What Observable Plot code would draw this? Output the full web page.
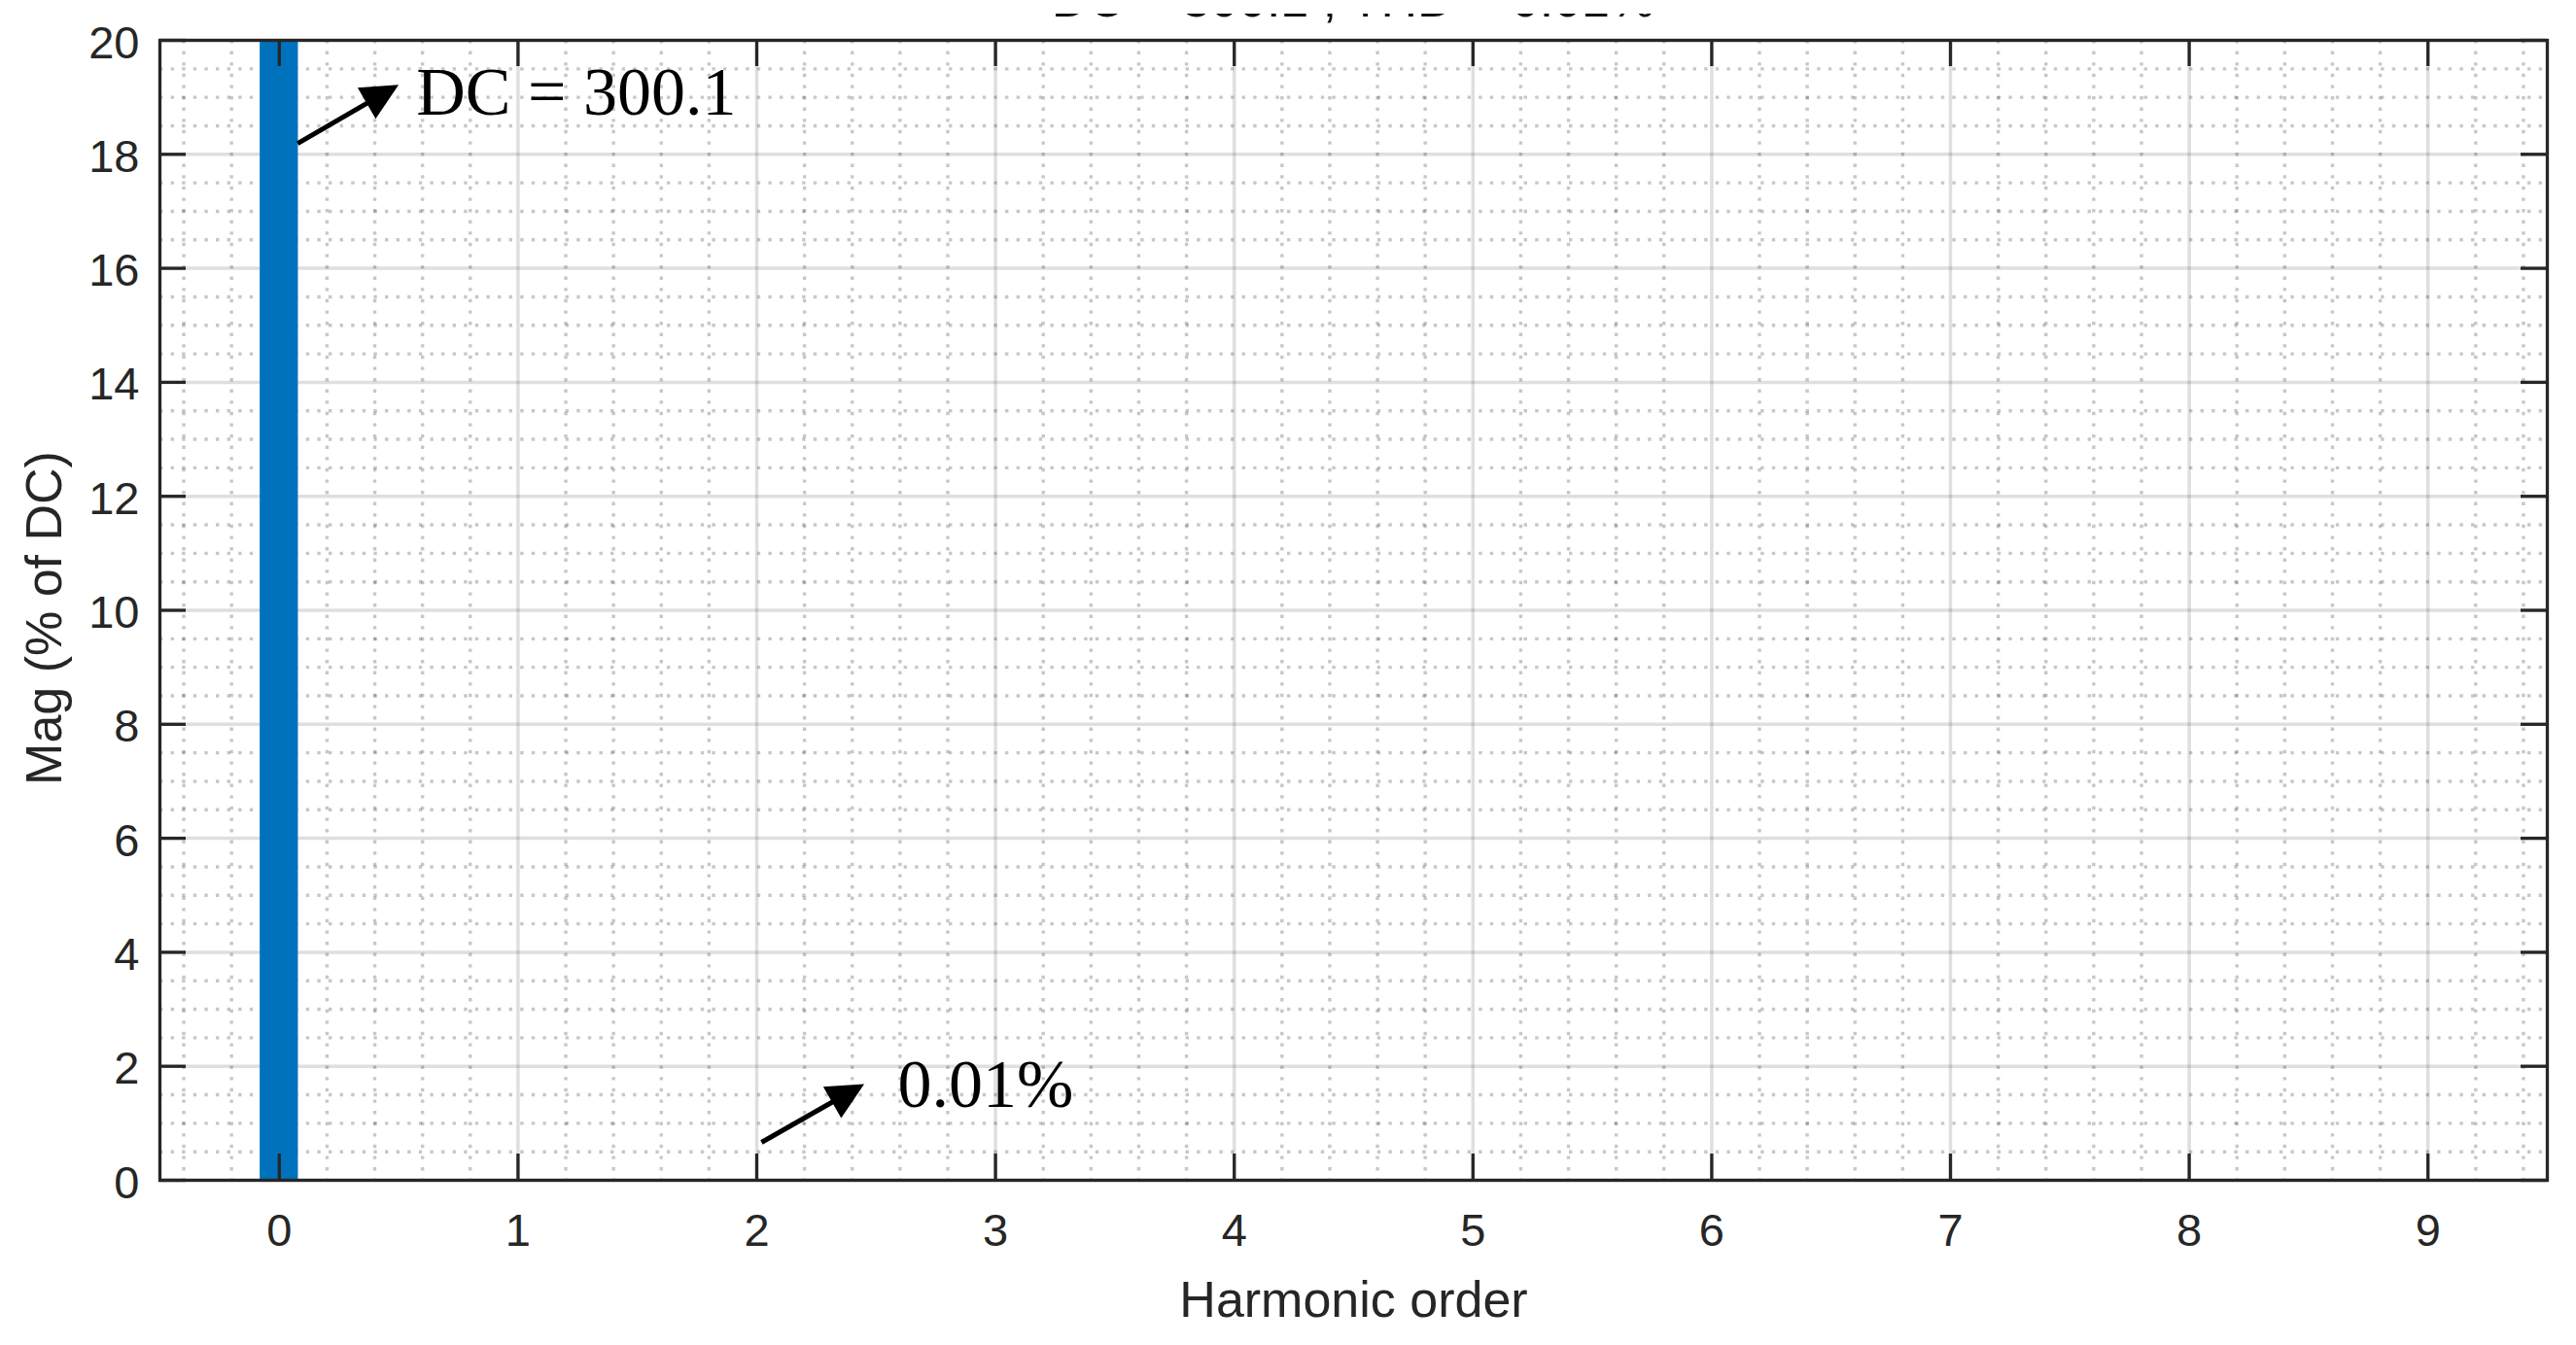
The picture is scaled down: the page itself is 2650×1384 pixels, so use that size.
<!DOCTYPE html>
<html>
<head>
<meta charset="utf-8">
<script src="https://cdn.jsdelivr.net/npm/d3@7"></script>
<script src="https://cdn.jsdelivr.net/npm/@observablehq/plot@0.6"></script>
<style>
html, body { margin: 0; padding: 0; background: #fff; }
#wrap { position: relative; width: 2650px; height: 1384px; overflow: hidden; background: #fff; }
#chart { position: absolute; left: 0; top: 0; }
#title { position: absolute; left: 164px; width: 2456px; top: -27px; height: 60px; line-height: 52px;
  font-family: 'Liberation Sans', Arial, sans-serif; font-size: 52px; color: #111; text-align: center;
  white-space: pre; clip-path: inset(41px 0 0 0); z-index: 2; }
</style>
</head>
<body>
<div id="wrap"><div id="chart"></div><div id="title"></div></div>
<script>
// ---- data ----
const titleText = "DC = 300.1 , THD = 0.01%";
const harmonicOrder = [0, 1, 2, 3, 4, 5, 6, 7, 8, 9];
const magPercentOfDC = [100, 0, 0, 0, 0, 0, 0, 0, 0, 0];
const xTicks = [0, 1, 2, 3, 4, 5, 6, 7, 8, 9];
const yTicks = [0, 2, 4, 6, 8, 10, 12, 14, 16, 18, 20];
const xLabel = "Harmonic order";
const yLabel = "Mag (% of DC)";
const noteTexts = ["DC = 300.1", "0.01%"];
const noteX = [0.574, 2.59];
const noteY = [18.70, 1.28];
const arrowX1 = [0.077, 2.02];
const arrowY1 = [18.19, 0.665];
const arrowX2 = [0.50, 2.45];
const arrowY2 = [19.22, 1.69];

// ---- layout / style ----
const W = 2650, H = 1384;
const mL = 164, mR = 30, mT = 41, mB = 170;
const plotW = W - mL - mR, plotH = H - mT - mB;
const ink = "#262626";
const tickLen = 27;
const barHalf = 0.08;

// filled arrow head, tip at the symbol origin, pointing up-right (about 60° from vertical)
const headLen = 38, headHalfW = 18.5;
const ux = Math.sin(Math.PI / 3), uy = -Math.cos(Math.PI / 3);
const nx = -uy, ny = ux;
const arrowHead = {
  draw(ctx) {
    ctx.moveTo(0, 0);
    ctx.lineTo(-headLen * ux + headHalfW * nx, -headLen * uy + headHalfW * ny);
    ctx.lineTo(-headLen * ux - headHalfW * nx, -headLen * uy - headHalfW * ny);
    ctx.closePath();
  }
};

const minorX = d3.range(-0.4, 9.5, 0.2).map(v => Math.round(v * 10) / 10).filter(v => Math.abs(v - Math.round(v)) > 1e-6);
const minorY = d3.range(0.5, 20, 0.5).filter(v => v % 2 !== 0);
const idx = harmonicOrder.map((_, i) => i);
const noteIdx = noteTexts.map((_, i) => i);

document.getElementById("title").textContent = titleText;

const chart = Plot.plot({
  width: W,
  height: H,
  marginLeft: mL, marginRight: mR, marginTop: mT, marginBottom: mB,
  style: { fontFamily: "'Liberation Sans', Arial, sans-serif", fontSize: "47px", color: ink, background: "#fff", overflow: "visible" },
  x: { domain: [-0.5, 9.5] },
  y: { domain: [0, 20] },
  marks: [
    // minor grid (dotted)
    Plot.ruleX(minorX, { x: d => d, stroke: ink, strokeOpacity: 0.26, strokeWidth: 3.4, strokeDasharray: "3.4,8.2" }),
    Plot.ruleY(minorY, { y: d => d, stroke: ink, strokeOpacity: 0.26, strokeWidth: 3.4, strokeDasharray: "3.4,8.2" }),
    // major grid
    Plot.ruleX(xTicks, { x: d => d, stroke: ink, strokeOpacity: 0.15, strokeWidth: 3.5 }),
    Plot.ruleY(yTicks, { y: d => d, stroke: ink, strokeOpacity: 0.15, strokeWidth: 3.5 }),
    // bars
    Plot.rectY(idx, {
      x1: i => harmonicOrder[i] - barHalf,
      x2: i => harmonicOrder[i] + barHalf,
      y1: 0,
      y2: i => magPercentOfDC[i],
      fill: "#0072BD",
      clip: true
    }),
    // inward ticks
    Plot.tickX(xTicks, { x: d => d, insetTop: plotH - tickLen, stroke: ink, strokeWidth: 3.3 }),
    Plot.tickX(xTicks, { x: d => d, insetBottom: plotH - tickLen, stroke: ink, strokeWidth: 3.3 }),
    Plot.tickY(yTicks, { y: d => d, insetRight: plotW - tickLen, stroke: ink, strokeWidth: 3.3 }),
    Plot.tickY(yTicks, { y: d => d, insetLeft: plotW - tickLen, stroke: ink, strokeWidth: 3.3 }),
    // axes labels
    Plot.axisX({ anchor: "bottom", ticks: xTicks, tickSize: 0, tickPadding: 34, fontSize: 47, label: null, fill: ink }),
    Plot.axisY({ anchor: "left", ticks: yTicks, tickSize: 0, tickPadding: 21, fontSize: 47, label: null, fill: ink, dy: 3 }),
    Plot.frame({ stroke: ink, strokeWidth: 3.3 }),
    // axis titles
    Plot.text([xLabel], { text: d => d, frameAnchor: "bottom", dy: 140, lineAnchor: "bottom", textAnchor: "middle", fontSize: 52, fill: ink }),
    Plot.text([yLabel], { text: d => d, frameAnchor: "left", rotate: -90, dx: -102, dy: 8, lineAnchor: "bottom", textAnchor: "middle", fontSize: 52, fill: ink }),
    // annotation arrows
    Plot.arrow(noteIdx, {
      x1: arrowX1, y1: arrowY1, x2: arrowX2, y2: arrowY2,
      headLength: 0, insetEnd: 22, stroke: "#000", strokeWidth: 5, strokeLinecap: "butt"
    }),
    Plot.dot(noteIdx, {
      x: arrowX2, y: arrowY2, symbol: arrowHead, r: 10, fill: "#000", stroke: "none"
    }),
    Plot.text(noteIdx, {
      x: noteX, y: noteY, text: noteTexts, textAnchor: "start", lineAnchor: "bottom",
      fontFamily: "'Liberation Serif', 'Times New Roman', serif", fontSize: 70, fill: "#000"
    })
  ]
});
document.getElementById("chart").appendChild(chart);
</script>
</body>
</html>
